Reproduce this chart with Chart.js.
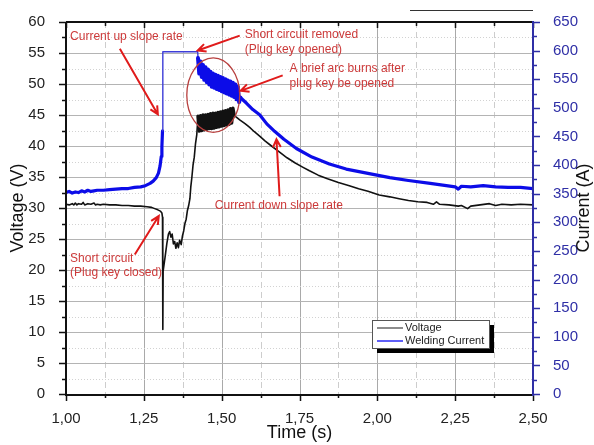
<!DOCTYPE html>
<html>
<head>
<meta charset="utf-8">
<script src="https://cdn.jsdelivr.net/npm/chart.js@4.4.1/dist/chart.umd.min.js"></script>
<style>
  html, body { margin: 0; padding: 0; background: #fff; }
</style>
</head>
<body>
<canvas id="weldChart" width="594" height="445"></canvas>
<script>
// Tensão (V) - curva preta
const voltageTime = [
  1.000, 1.010, 1.020, 1.025, 1.030, 1.035, 1.040, 1.050, 1.055, 1.060, 1.070, 1.080, 1.090, 1.095,
  1.100, 1.110, 1.120, 1.140, 1.160, 1.180, 1.200, 1.220, 1.240, 1.260, 1.275, 1.285, 1.295, 1.303,
  1.308, 1.310, 1.311, 1.312, 1.318, 1.324, 1.329, 1.333, 1.337, 1.341, 1.345, 1.349, 1.353, 1.357,
  1.361, 1.365, 1.370, 1.374, 1.378, 1.382, 1.386, 1.390, 1.394, 1.398, 1.401, 1.404, 1.408, 1.412,
  1.416, 1.420,
  1.424, 1.428, 1.432, 1.436, 1.440, 1.444, 1.448, 1.452, 1.456, 1.460, 1.464, 1.468, 1.472, 1.476,
  1.480, 1.484, 1.488, 1.492, 1.496, 1.500, 1.504, 1.508, 1.512, 1.516, 1.520, 1.524, 1.528, 1.532, 1.536,
  1.540, 1.548, 1.558, 1.575, 1.590, 1.605, 1.622, 1.640, 1.660, 1.686, 1.710, 1.735, 1.760, 1.782,
  1.810, 1.840, 1.875, 1.910, 1.940, 1.970, 2.006, 2.040, 2.070, 2.100, 2.130, 2.160, 2.180, 2.190,
  2.200, 2.230, 2.260, 2.270, 2.290, 2.300, 2.330, 2.360, 2.380, 2.400, 2.430, 2.460, 2.500
];
const voltageValues = [
  30.6, 30.5, 30.7, 30.5, 30.8, 30.5, 30.7, 30.6, 30.9, 30.5, 30.7, 30.6, 30.8, 30.5,
  30.6, 30.5, 30.6, 30.5, 30.5, 30.4, 30.4, 30.3, 30.3, 30.2, 30.1, 29.9, 29.7, 29.5,
  29.2, 28.5, 10.4, 19.8, 22.0, 24.3, 25.8, 26.2, 25.3, 25.8, 24.2, 24.6, 23.5, 24.4,
  23.6, 24.8, 24.1, 25.5, 26.3, 27.5, 28.2, 29.6, 30.4, 31.5, 33.5, 34.8, 36.9, 38.2,
  40.4, 41.8,
  44.8, 42.4, 44.9, 42.5, 45.0, 42.6, 45.0, 42.7, 45.1, 42.8, 45.2, 42.8, 45.3, 42.9,
  45.3, 43.0, 45.4, 43.1, 45.5, 43.2, 45.6, 43.3, 45.7, 43.4, 45.8, 43.5, 46.0, 43.7, 46.1,
  45.0, 44.6, 44.2, 43.6, 43.0, 42.3, 41.6, 40.8, 40.0, 39.0, 38.1, 37.3, 36.6, 36.0,
  35.3, 34.7, 34.1, 33.6, 33.1, 32.7, 32.1, 31.8, 31.5, 31.2, 31.0, 30.9, 30.6, 31.0,
  30.6, 30.5, 30.3, 30.4, 29.9, 30.3, 30.5, 30.7, 30.4, 30.6, 30.5, 30.6, 30.5
];

// Corrente de soldagem (A) - curva azul
const currentTime = [
  1.000, 1.010, 1.020, 1.030, 1.040, 1.050, 1.060, 1.070, 1.080, 1.090, 1.100, 1.120, 1.140, 1.160,
  1.180, 1.200, 1.220, 1.240, 1.255, 1.270, 1.280, 1.290, 1.297, 1.302, 1.306, 1.308, 1.310, 1.311,
  1.423,
  1.424, 1.428, 1.432, 1.436, 1.440, 1.444, 1.448, 1.452, 1.456, 1.460, 1.464, 1.468, 1.472, 1.476,
  1.480, 1.484, 1.488, 1.492, 1.496, 1.500, 1.504, 1.508, 1.512, 1.516, 1.520, 1.524, 1.528, 1.532,
  1.536, 1.540, 1.544, 1.548, 1.552, 1.556,
  1.560, 1.580, 1.600, 1.622, 1.645, 1.670, 1.700, 1.740, 1.790, 1.846, 1.900, 1.974, 2.040, 2.100,
  2.170, 2.210, 2.250, 2.260, 2.270, 2.300, 2.340, 2.380, 2.420, 2.460, 2.500
];
const currentValues = [
  352, 354, 351, 353, 352, 355, 353, 356, 354, 355, 356, 356, 357, 358,
  359, 359, 361, 362, 364, 368, 372, 378, 386, 398, 415, 432, 460, 598,
  598,
  587, 560, 581, 554, 575, 549, 571, 545, 567, 541, 563, 537, 560, 535,
  558, 533, 556, 531, 554, 529, 552, 527, 550, 525, 548, 523, 546, 521,
  544, 519, 541, 515, 537, 510,
  518, 508, 497, 488, 472, 459, 445, 429, 414, 402, 393, 385, 378, 373,
  368, 365, 362, 358, 363, 362, 364, 362, 361, 361, 359
];

const seriesLabels = ['Voltage', 'Welding Current'];

// Textos das anotações (posição da 1ª linha em coordenadas de dados)
const notes = [
  { lines: ['Current up slope rate'], t: 1.013, v: 57.6 },
  { lines: ['Short circuit removed', '(Plug key opened)'], t: 1.574, v: 57.9 },
  { lines: ['A brief arc burns after', 'plug key be opened'], t: 1.718, v: 52.4 },
  { lines: ['Current down slope rate'], t: 1.478, v: 30.3 },
  { lines: ['Short circuit', '(Plug key closed)'], t: 1.013, v: 21.9 }
];
const arrows = [
  { from: [1.173, 55.7], to: [1.295, 45.1] },
  { from: [1.558, 57.8], to: [1.423, 55.4] },
  { from: [1.696, 51.4], to: [1.561, 48.9] },
  { from: [1.686, 31.9], to: [1.676, 41.1] },
  { from: [1.221, 22.5], to: [1.298, 28.7] }
];

const FONT = 'Arial, "Liberation Sans", sans-serif';
const AXIS_BLUE = '#2f2fa6';

function toPoints(xs, ys) {
  return xs.map((t, i) => ({ x: t, y: ys[i] }));
}

// trecho ruidoso logo após abrir a chave (arco breve)
const inArcBand = c => c.p0.parsed.x >= 1.4235 && c.p0.parsed.x < 1.5365;
const inFlatStep = c => c.p0.parsed.x >= 1.309 && c.p0.parsed.x < 1.4235;

function drawArrow(ctx, x0, y0, x1, y1) {
  const ang = Math.atan2(y1 - y0, x1 - x0);
  const head = 9;
  ctx.beginPath();
  ctx.moveTo(x0, y0);
  ctx.lineTo(x1, y1);
  ctx.moveTo(x1 - head * Math.cos(ang - 0.45), y1 - head * Math.sin(ang - 0.45));
  ctx.lineTo(x1, y1);
  ctx.lineTo(x1 - head * Math.cos(ang + 0.45), y1 - head * Math.sin(ang + 0.45));
  ctx.stroke();
}

// Grade, eixos, títulos, anotações e legenda desenhados à mão
const decorPlugin = {
  id: 'decor',
  beforeDatasetsDraw(chart) {
    const { ctx, chartArea: a, scales: { x, y } } = chart;
    ctx.save();
    ctx.lineWidth = 1;
    for (let i = 1; i < 12; i++) {
      const px = Math.round(x.getPixelForValue(1 + i * 0.125)) + 0.5;
      if (i % 2 === 0) { ctx.setLineDash([]); ctx.strokeStyle = '#a9a9a9'; }
      else { ctx.setLineDash([6, 4]); ctx.strokeStyle = '#cdcdcd'; }
      ctx.beginPath(); ctx.moveTo(px, a.top); ctx.lineTo(px, a.bottom); ctx.stroke();
    }
    for (let i = 1; i < 24; i++) {
      const py = Math.round(y.getPixelForValue(i * 2.5)) + 0.5;
      if (i % 2 === 0) { ctx.setLineDash([]); ctx.strokeStyle = '#b4b4b4'; }
      else { ctx.setLineDash([1, 2]); ctx.strokeStyle = '#d2d2d2'; }
      ctx.beginPath(); ctx.moveTo(a.left, py); ctx.lineTo(a.right, py); ctx.stroke();
    }
    ctx.restore();
  },
  afterDatasetsDraw(chart) {
    const { ctx, chartArea: a, scales: { x, y, y1 } } = chart;
    ctx.save();
    ctx.setLineDash([]);

    // ticks
    ctx.strokeStyle = '#111';
    ctx.lineWidth = 1.5;
    ctx.beginPath();
    for (let i = 0; i <= 24; i++) {
      const py = Math.round(y.getPixelForValue(i * 2.5)) + 0.5;
      ctx.moveTo(a.left, py); ctx.lineTo(a.left - (i % 2 === 0 ? 7 : 4), py);
    }
    for (let i = 0; i <= 12; i++) {
      const px = Math.round(x.getPixelForValue(1 + i * 0.125)) + 0.5;
      ctx.moveTo(px, a.bottom); ctx.lineTo(px, a.bottom + (i % 2 === 0 ? 7 : 4));
      ctx.moveTo(px, a.top); ctx.lineTo(px, a.top + (i % 2 === 0 ? 6 : 4));
    }
    ctx.stroke();
    ctx.strokeStyle = AXIS_BLUE;
    ctx.beginPath();
    for (let i = 0; i <= 26; i++) {
      const py = Math.round(y1.getPixelForValue(i * 25)) + 0.5;
      ctx.moveTo(a.right, py); ctx.lineTo(a.right + (i % 2 === 0 ? 7 : 4), py);
    }
    ctx.stroke();

    // linhas dos eixos
    ctx.lineWidth = 2;
    ctx.strokeStyle = '#111';
    ctx.beginPath();
    ctx.moveTo(a.left, a.top); ctx.lineTo(a.right, a.top);
    ctx.moveTo(a.left, a.top); ctx.lineTo(a.left, a.bottom + 1); ctx.lineTo(a.right, a.bottom + 1);
    ctx.stroke();
    ctx.strokeStyle = AXIS_BLUE;
    ctx.beginPath(); ctx.moveTo(a.right, a.top - 1); ctx.lineTo(a.right, a.bottom + 2); ctx.stroke();

    // traço solto acima do gráfico
    ctx.strokeStyle = '#333';
    ctx.lineWidth = 1;
    ctx.beginPath(); ctx.moveTo(410, 10.5); ctx.lineTo(a.right, 10.5); ctx.stroke();

    // títulos dos eixos
    ctx.fillStyle = '#111';
    ctx.font = '18px ' + FONT;
    ctx.textAlign = 'center';
    ctx.textBaseline = 'middle';
    ctx.fillText('Time (s)', (a.left + a.right) / 2, 433);
    ctx.save(); ctx.translate(18, (a.top + a.bottom) / 2); ctx.rotate(-Math.PI / 2);
    ctx.fillText('Voltage (V)', 0, 0); ctx.restore();
    ctx.save(); ctx.translate(584, (a.top + a.bottom) / 2); ctx.rotate(-Math.PI / 2);
    ctx.fillText('Current (A)', 0, 0); ctx.restore();

    // elipse vermelha
    const cx = x.getPixelForValue(1.473), cy = y.getPixelForValue(48.2);
    const rx = x.getPixelForValue(1.473 + 0.085) - cx;
    const ry = y.getPixelForValue(48.2 - 6.0) - cy;
    ctx.strokeStyle = '#b8403f';
    ctx.lineWidth = 1.3;
    ctx.beginPath(); ctx.ellipse(cx, cy, rx, ry, 0, 0, Math.PI * 2); ctx.stroke();

    // setas
    ctx.strokeStyle = '#e01b1b';
    ctx.lineWidth = 2;
    arrows.forEach(ar => {
      drawArrow(ctx, x.getPixelForValue(ar.from[0]), y.getPixelForValue(ar.from[1]),
                x.getPixelForValue(ar.to[0]), y.getPixelForValue(ar.to[1]));
    });

    // textos
    ctx.fillStyle = '#cc3a3a';
    ctx.font = '12px ' + FONT;
    ctx.textAlign = 'left';
    notes.forEach(n => {
      const px = x.getPixelForValue(n.t), py = y.getPixelForValue(n.v);
      n.lines.forEach((s, k) => ctx.fillText(s, px, py + k * 14.5));
    });

    // legenda
    const lx = a.right - 161, ly = a.bottom - 74, lw = 117, lh = 28;
    ctx.fillStyle = '#000';
    ctx.fillRect(lx + 5, ly + 5, lw, lh);
    ctx.fillStyle = '#fff';
    ctx.fillRect(lx, ly, lw, lh);
    ctx.strokeStyle = '#555';
    ctx.lineWidth = 1;
    ctx.strokeRect(lx + 0.5, ly + 0.5, lw, lh);
    ctx.font = '11px ' + FONT;
    ctx.fillStyle = '#222';
    const colors = ['#666', '#2a2af5'];
    ctx.lineWidth = 1.5;
    seriesLabels.forEach((lab, k) => {
      const yy = ly + 8 + k * 13;
      ctx.strokeStyle = colors[k];
      ctx.beginPath(); ctx.moveTo(lx + 5, yy); ctx.lineTo(lx + 31, yy); ctx.stroke();
      ctx.fillText(lab, lx + 33, yy);
    });
    ctx.restore();
  }
};

const ctx = document.getElementById('weldChart').getContext('2d');
const weldChart = new Chart(ctx, {
  type: 'line',
  data: {
    datasets: [
      {
        label: seriesLabels[0],
        data: toPoints(voltageTime, voltageValues),
        yAxisID: 'y',
        borderColor: '#111',
        borderWidth: 1.6,
        borderJoinStyle: 'round',
        borderCapStyle: 'round',
        pointRadius: 0,
        tension: 0,
        segment: {
          borderWidth: c => (inArcBand(c) ? 3.4 : undefined)
        }
      },
      {
        label: seriesLabels[1],
        data: toPoints(currentTime, currentValues),
        yAxisID: 'y1',
        borderColor: '#0c0ce8',
        borderWidth: 3.2,
        borderJoinStyle: 'round',
        borderCapStyle: 'round',
        pointRadius: 0,
        tension: 0,
        segment: {
          borderWidth: c => (inFlatStep(c) ? 1.4 : (c.p0.parsed.x >= 1.4235 && c.p0.parsed.x < 1.557 ? 4 : undefined)),
          borderColor: c => (inFlatStep(c) ? '#3d3dd8' : undefined)
        }
      }
    ]
  },
  options: {
    responsive: false,
    animation: false,
    devicePixelRatio: 1,
    layout: { padding: { top: 16, right: 0, bottom: 0, left: 0 } },
    plugins: { legend: { display: false }, tooltip: { enabled: false } },
    scales: {
      x: {
        type: 'linear',
        min: 1,
        max: 2.5,
        grid: { display: false },
        border: { display: false },
        ticks: {
          stepSize: 0.25,
          padding: 8,
          color: '#222',
          font: { size: 15, family: FONT },
          maxRotation: 0,
          callback: v => v.toFixed(2).replace('.', ',')
        },
        afterFit: s => { s.height = 51; }
      },
      y: {
        position: 'left',
        min: 0,
        max: 60,
        grid: { display: false },
        border: { display: false },
        ticks: { stepSize: 5, padding: 13, color: '#222', font: { size: 15, family: FONT } },
        afterFit: s => { s.width = 66; }
      },
      y1: {
        position: 'right',
        min: 0,
        max: 650,
        grid: { display: false },
        border: { display: false },
        ticks: { stepSize: 50, padding: 12, color: AXIS_BLUE, font: { size: 15, family: FONT } },
        afterFit: s => { s.width = 61; }
      }
    }
  },
  plugins: [decorPlugin]
});
</script>
</body>
</html>
